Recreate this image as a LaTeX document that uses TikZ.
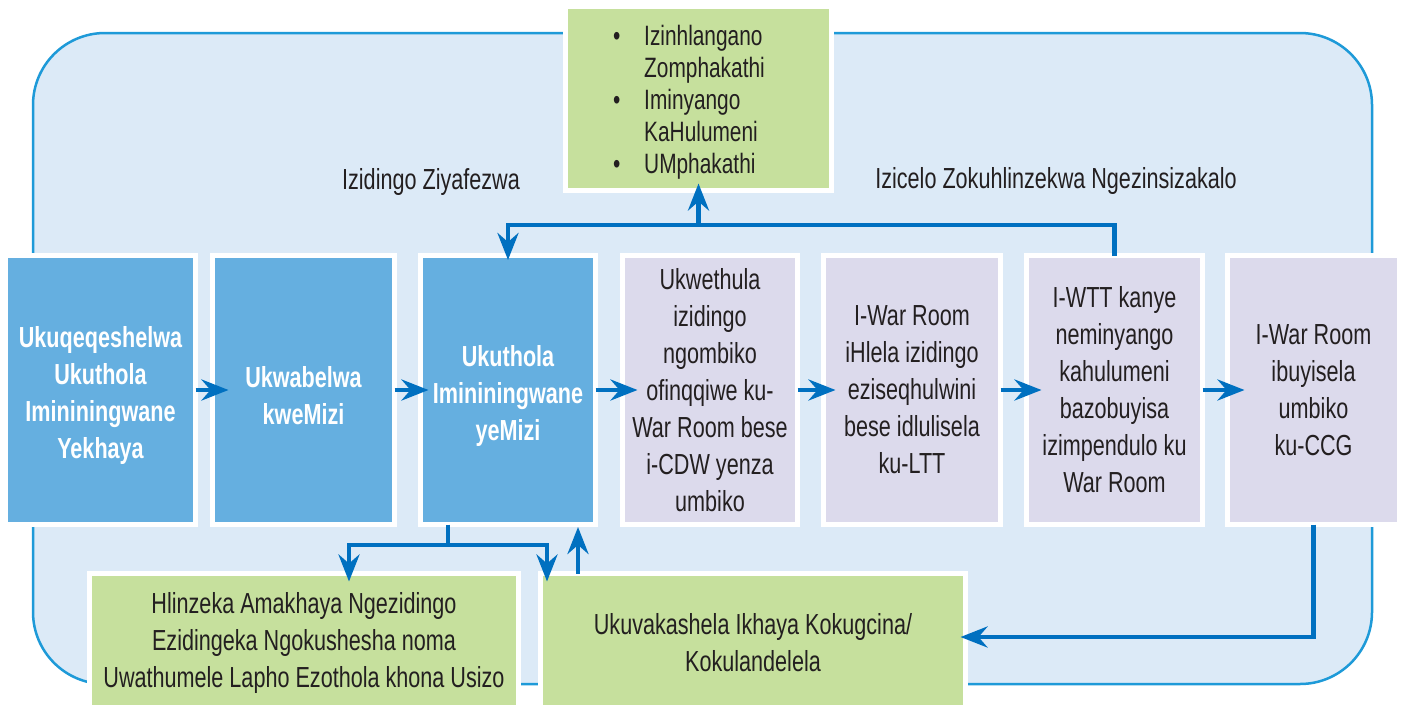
\documentclass[tikz,border=0pt]{standalone}
\usepackage{fontspec}
\setmainfont{Liberation Sans}[FakeStretch=0.745]
\usetikzlibrary{arrows.meta}
\definecolor{bgfill}{RGB}{220,234,247}
\definecolor{bgline}{RGB}{30,154,216}
\definecolor{bluebox}{RGB}{101,175,224}
\definecolor{lavbox}{RGB}{220,218,236}
\definecolor{greenbox}{RGB}{198,224,157}
\definecolor{arrowc}{RGB}{0,112,192}
\definecolor{txt}{RGB}{35,31,32}
\newcommand{\dnstrut}{\rule{0pt}{33pt}}
\begin{document}
\begin{tikzpicture}[x=1pt,y=-1pt,
  box/.style={rectangle,draw=white,line width=5pt,inner sep=0pt,outer sep=0pt,align=center,font=\fontsize{29}{37}\selectfont,text=txt},
  bbox/.style={box,fill=bluebox,text=white,font=\fontsize{29}{37}\selectfont\bfseries},
  lbox/.style={box,fill=lavbox},
  gbox/.style={box,fill=greenbox},
  arr/.style={draw=arrowc,line width=4.5pt,-{Stealth[length=27pt,width=21pt,inset=9pt]}},
  conn/.style={draw=arrowc,line width=4.5pt},
  lbl/.style={font=\fontsize{29}{37}\selectfont,text=txt,inner sep=0pt}]
\useasboundingbox (0,0) rectangle (1402,704);
\clip (0,0) rectangle (1402,704);
\draw[draw=bgline,line width=2.5pt,fill=bgfill,rounded corners=72pt] (33,33) rectangle (1372,684);

% main row
\node[bbox,minimum width=190pt,minimum height=269pt] (b1) at (100.5,390) {\dnstrut Ukuqeqeshelwa\\Ukuthola\\Imininingwane\\Yekhaya};
\node[bbox,minimum width=182pt,minimum height=269pt] (b2) at (303.5,390) {\dnstrut Ukwabelwa\\kweMizi};
\node[bbox,minimum width=175pt,minimum height=269pt] (b3) at (508,390) {\dnstrut Ukuthola\\Imininingwane\\yeMizi};
\node[lbox,minimum width=175pt,minimum height=269pt] (b4) at (710,390) {Ukwethula\\izidingo\\ngombiko\\ofinqqiwe ku-\\War Room bese\\i-CDW yenza\\umbiko};
\node[lbox,minimum width=177pt,minimum height=269pt] (b5) at (912,390) {I-War Room\\iHlela izidingo\\eziseqhulwini\\bese idlulisela\\ku-LTT};
\node[lbox,minimum width=176pt,minimum height=269pt] (b6) at (1114.5,390) {I-WTT kanye\\neminyango\\kahulumeni\\bazobuyisa\\izimpendulo ku\\War Room};
\node[lbox,minimum width=172pt,minimum height=269pt] (b7) at (1313.5,390) {I-War Room\\ibuyisela\\umbiko\\ku-CCG};

% top box
\node[gbox,minimum width=266pt,minimum height=184pt] (top) at (698.5,98.5) {};
\node[anchor=north west,inner sep=0pt,align=left,text=txt,font=\fontsize{28}{32}\selectfont] (toplist) at (613,25)
 {\makebox[31pt][l]{\textbullet}Izinhlangano\\\hspace*{31pt}Zomphakathi\\\makebox[31pt][l]{\textbullet}Iminyango\\\hspace*{31pt}KaHulumeni\\\makebox[31pt][l]{\textbullet}UMphakathi};

\node[lbl] (need) at (431,182) {Izidingo Ziyafezwa};
\node[lbl] (req) at (1056,181) {Izicelo Zokuhlinzekwa Ngezinsizakalo};

% bottom boxes
\node[gbox,minimum width=429pt,minimum height=139pt] (bl) at (304,643) {Hlinzeka Amakhaya Ngezidingo\\Ezidingeka Ngokushesha noma\\Uwathumele Lapho Ezothola khona Usizo};
\node[gbox,minimum width=425pt,minimum height=139pt] (br) at (753,643) {Ukuvakashela Ikhaya Kokugcina/\\Kokulandelela};

% horizontal arrows
\draw[arr,shorten >=-16pt] (b1.east) -- (b2.west);
\draw[arr,shorten >=-8pt] (b2.east) -- (b3.west);
\draw[arr,shorten >=-15pt] (b3.east) -- (b4.west);
\draw[arr,shorten >=-12pt] (b4.east) -- (b5.west);
\draw[arr,shorten >=-15pt] (b5.east) -- (b6.west);
\draw[arr,shorten >=-17pt] (b6.east) -- (b7.west);

% top connector
\coordinate (t) at (698.5,225);
\draw[arr,shorten >=-4.5pt] (b6.north) -- (b6.north |- t) -| (b3.north);
\draw[arr,shorten >=-7pt] (t) -- (top.south);

% bottom connectors
\coordinate (k) at (448,545);
\coordinate (kl) at (349,545);
\coordinate (kr) at (547,545);
\coordinate (u) at (578,545);
\draw[conn] (b3.south -| k) -- (k);
\draw[arr,shorten >=-8pt] (k) -| (bl.north -| kl);
\draw[arr,shorten >=-8pt] (k) -| (br.north -| kr);
\draw[arr,shorten >=2.5pt] (br.north -| u) -- (b3.south -| u);
\draw[arr,shorten >=-5pt] (b7.south) |- ([yshift=6pt]br.east);
\end{tikzpicture}
\end{document}
